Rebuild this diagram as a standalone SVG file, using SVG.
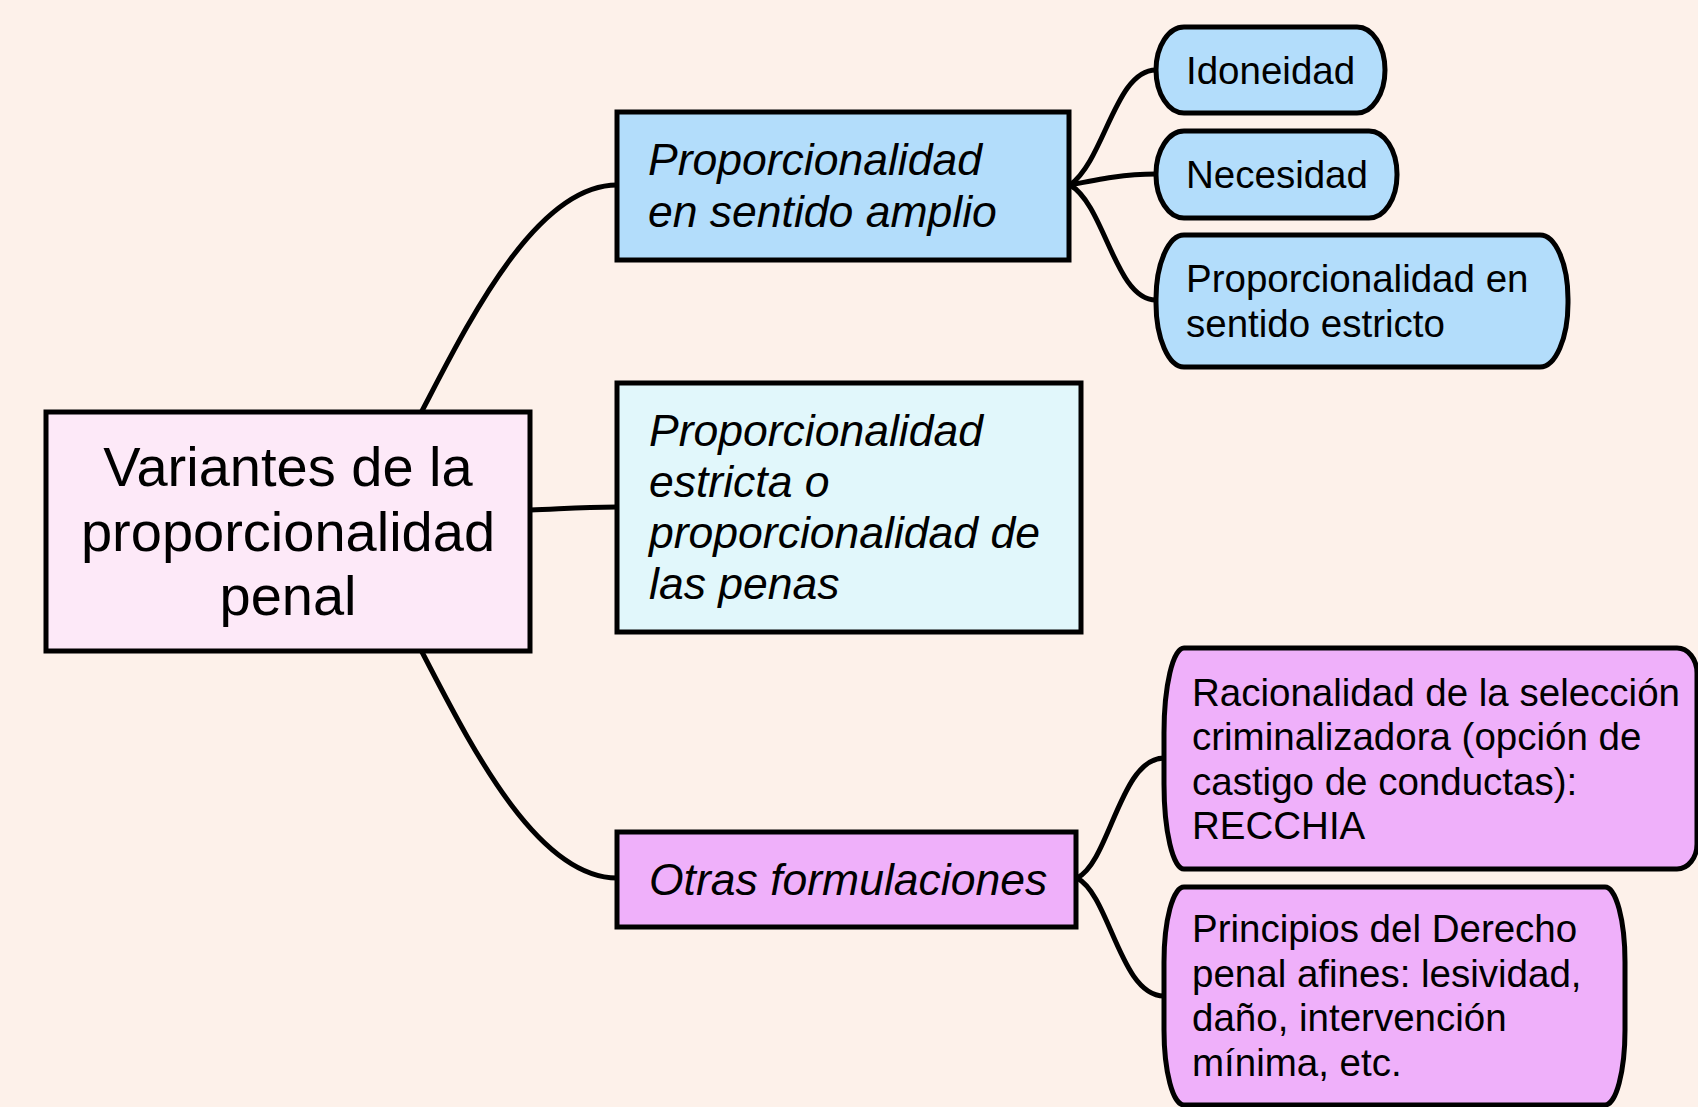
<svg xmlns="http://www.w3.org/2000/svg" width="1698" height="1107" viewBox="0 0 1698 1107">
<style>
.box{stroke:#000;stroke-width:5;}
.conn{fill:none;stroke:#000;stroke-width:5;stroke-linecap:round;}
.t{font-family:"Liberation Sans",Arial,Helvetica,sans-serif;fill:#000;}
.big{font-size:56px;}
.it{font-size:44.5px;font-style:italic;}
.sm{font-size:38.5px;}
</style>
<rect x="0" y="0" width="1698" height="1107" fill="#fdf1ea"/>
<g id="connectors">
<path class="conn" d="M 422 411 C 467 325, 535 185, 617 185"/>
<path class="conn" d="M 530 510 C 560 509, 580 507, 617 507"/>
<path class="conn" d="M 422 652 C 467 738, 535 878, 617 878"/>
<path class="conn" d="M 1070 185 C 1105 160, 1115 70, 1156 70"/>
<path class="conn" d="M 1070 185 C 1100 179, 1125 174, 1156 174"/>
<path class="conn" d="M 1070 185 C 1105 205, 1115 300, 1156 300"/>
<path class="conn" d="M 1077 878 C 1110 862, 1120 758, 1164 758"/>
<path class="conn" d="M 1077 878 C 1110 895, 1120 996, 1164 996"/>
</g>
<g id="root">
<rect class="box" x="46" y="412" width="484" height="239" fill="#fde9f8"/>
<text class="t big" text-anchor="middle"><tspan x="288" y="486">Variantes de la</tspan><tspan x="288" y="551">proporcionalidad</tspan><tspan x="288" y="615">penal</tspan></text>
</g>
<g id="amplio">
<rect class="box" x="617" y="112" width="452" height="148" fill="#b3ddfb"/>
<text class="t it"><tspan x="648" y="175">Proporcionalidad</tspan><tspan x="648" y="227">en sentido amplio</tspan></text>
</g>
<g id="estricta">
<rect class="box" x="617" y="383" width="464" height="249" fill="#e1f7fb"/>
<text class="t it"><tspan x="649" y="446">Proporcionalidad</tspan><tspan x="649" y="497">estricta o</tspan><tspan x="649" y="548">proporcionalidad de</tspan><tspan x="649" y="599">las penas</tspan></text>
</g>
<g id="otras">
<rect class="box" x="617" y="832" width="459" height="95" fill="#efb0fa"/>
<text class="t it" x="649" y="894.5">Otras formulaciones</text>
</g>
<g id="idoneidad">
<rect class="box" x="1156" y="27" width="229" height="86" rx="28" ry="43" fill="#b3ddfb"/>
<text class="t sm" x="1186" y="83.5">Idoneidad</text>
</g>
<g id="necesidad">
<rect class="box" x="1156" y="131" width="241" height="87" rx="28" ry="43" fill="#b3ddfb"/>
<text class="t sm" x="1186" y="188">Necesidad</text>
</g>
<g id="sentido-estricto">
<rect class="box" x="1156" y="235" width="412" height="132" rx="28" ry="64" fill="#b3ddfb"/>
<text class="t sm"><tspan x="1186" y="292">Proporcionalidad en</tspan><tspan x="1186" y="336.5">sentido estricto</tspan></text>
</g>
<g id="racionalidad">
<path class="box" fill="#efb0fa" d="M 1184 648 H 1677 A 20 25 0 0 1 1697 673 V 844 A 20 25 0 0 1 1677 869 H 1184 A 20 85 0 0 1 1164 784 V 733 A 20 85 0 0 1 1184 648 Z"/>
<text class="t sm"><tspan x="1192" y="705.5">Racionalidad de la selección</tspan><tspan x="1192" y="750">criminalizadora (opción de</tspan><tspan x="1192" y="794.5">castigo de conductas):</tspan><tspan x="1192" y="839">RECCHIA</tspan></text>
</g>
<g id="principios">
<rect class="box" x="1164" y="887" width="461" height="218" rx="20" ry="75" fill="#efb0fa"/>
<text class="t sm"><tspan x="1192" y="942">Principios del Derecho</tspan><tspan x="1192" y="986.5">penal afines: lesividad,</tspan><tspan x="1192" y="1031">daño, intervención</tspan><tspan x="1192" y="1075.5">mínima, etc.</tspan></text>
</g>
</svg>
